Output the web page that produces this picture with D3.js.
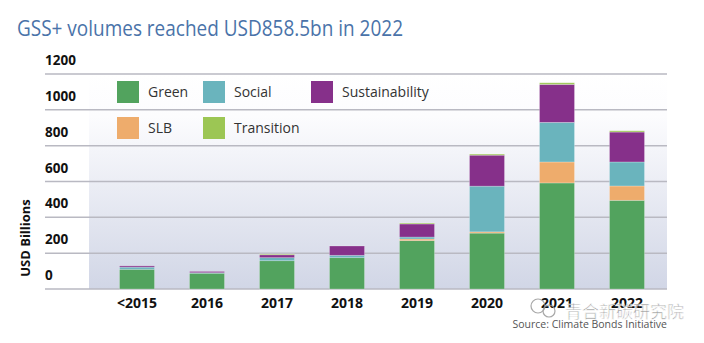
<!DOCTYPE html>
<meta charset="utf-8">
<script src="https://d3js.org/d3.v7.min.js"></script>
<style>
body { margin: 0; background: #fff; }
text { font-family: "Open Sans", sans-serif; }
</style>
<body>
<div id="chart"></div>
<script>

// GSS+ issuance by theme, USD billions
const years = ["<2015", "2016", "2017", "2018", "2019", "2020", "2021", "2022"];
const green          = [110,  88, 158, 175, 270, 312, 592, 495];
const slb            = [  0,   0,   0,   0,   9,   7, 117,  80];
const social         = [ 12,   3,  17,  13,  11, 255, 221, 134];
const sustainability = [  7,   7,  16,  52,  73, 173, 212, 167];
const transition     = [  0,   0,   4,   0,   5,   6,   9,   7];
const yTicks = [0, 200, 400, 600, 800, 1000, 1200];

const themes = [
  {key: "Green", values: green, color: "#52a35e"},
  {key: "SLB", values: slb, color: "#eeac6c"},
  {key: "Social", values: social, color: "#6ab4bd"},
  {key: "Sustainability", values: sustainability, color: "#86308a"},
  {key: "Transition", values: transition, color: "#9cc654"}
];

const width = 704, height = 343;
const svg = d3.select("#chart").append("svg")
  .attr("width", width)
  .attr("height", height);

// stacked table built from the arrays
const table = years.map((y, i) => {
  const row = {year: y};
  themes.forEach(t => row[t.key] = t.values[i]);
  return row;
});
const series = d3.stack().keys(themes.map(t => t.key))(table);

const x = d3.scaleBand().domain(years).range([102, 662]).paddingInner(0.5).paddingOuter(0.25);
const y = d3.scaleLinear().domain([0, 1200]).range([289, 74]);

// title
svg.append("text")
  .attr("x", 17).attr("y", 36)
  .attr("fill", "#4a73a9")
  .style("font-size", "22px")
  .attr("textLength", 386)
  .attr("lengthAdjust", "spacingAndGlyphs")
  .text("GSS+ volumes reached USD858.5bn in 2022");

// plot background
const grad = svg.append("defs").append("linearGradient")
  .attr("id", "bg").attr("x1", 0).attr("y1", 0).attr("x2", 0).attr("y2", 1);
grad.append("stop").attr("offset", "0%").attr("stop-color", "#ffffff");
grad.append("stop").attr("offset", "20%").attr("stop-color", "#fcfcfe");
grad.append("stop").attr("offset", "100%").attr("stop-color", "#d1d6e6");

svg.append("rect")
  .attr("x", 89).attr("y", y(1200))
  .attr("width", 667 - 89).attr("height", y(0) - y(1200))
  .attr("fill", "url(#bg)");

// gridlines with labels sitting above each line
const grid = svg.append("g");
grid.selectAll("line").data(yTicks).join("line")
  .attr("x1", 45).attr("x2", 667)
  .attr("y1", d => y(d)).attr("y2", d => y(d))
  .attr("stroke", "#b9b9c2").attr("stroke-width", 1.5);
grid.selectAll("text").data(yTicks).join("text")
  .attr("x", 45).attr("y", d => y(d) - 9)
  .style("font-size", "13.5px").style("font-weight", 700)
  .attr("fill", "#111")
  .text(d => d);

// y axis title
svg.append("text")
  .attr("transform", "translate(30,238) rotate(-90)")
  .attr("text-anchor", "middle")
  .style("font-size", "13px").style("font-weight", 700)
  .attr("fill", "#111")
  .text("USD Billions");

// stacked bars
svg.append("g").selectAll("g").data(series).join("g")
    .attr("fill", (d, i) => themes[i].color)
  .selectAll("rect").data(d => d).join("rect")
    .attr("x", d => x(d.data.year))
    .attr("width", x.bandwidth())
    .attr("y", d => y(d[1]))
    .attr("height", d => y(d[0]) - y(d[1]))
    .attr("stroke", "#ffffff").attr("stroke-opacity", 0.3).attr("stroke-width", 0.8);

// x axis labels
svg.append("g").selectAll("text").data(years).join("text")
  .attr("x", d => x(d) + x.bandwidth() / 2)
  .attr("y", 308)
  .attr("text-anchor", "middle")
  .style("font-size", "14px").style("font-weight", 700)
  .attr("fill", "#111")
  .text(d => d);

// legend
const legendPos = {
  "Green": [117, 81], "Social": [203, 81], "Sustainability": [311, 81],
  "SLB": [117, 117], "Transition": [203, 117]
};
const legend = svg.append("g").selectAll("g").data(themes).join("g")
  .attr("transform", d => `translate(${legendPos[d.key][0]},${legendPos[d.key][1]})`);
legend.append("rect")
  .attr("width", 22).attr("height", 22)
  .attr("fill", d => d.color);
legend.append("text")
  .attr("x", 31).attr("y", 16)
  .style("font-size", "14px")
  .attr("fill", "#333")
  .text(d => d.key);

// source
svg.append("text")
  .attr("x", 667).attr("y", 328)
  .attr("text-anchor", "end")
  .style("font-size", "10.5px")
  .attr("fill", "#555")
  .text("Source: Climate Bonds Initiative");

// watermark
const wm = svg.append("g").attr("opacity", 0.85);
wm.append("circle").attr("cx", 538).attr("cy", 306).attr("r", 7)
  .attr("fill", "none").attr("stroke", "#999").attr("stroke-width", 1.2);
wm.append("circle").attr("cx", 549).attr("cy", 311).attr("r", 6)
  .attr("fill", "none").attr("stroke", "#999").attr("stroke-width", 1.2);
wm.append("text")
  .attr("x", 565).attr("y", 318)
  .style("font-family", "'Noto Sans CJK SC', sans-serif")
  .style("font-size", "17px")
  .attr("fill", "#8a8a8a")
  .attr("stroke", "#ffffff").attr("stroke-width", 0.6)
  .text("青合新碳研究院");

</script>
</body>
